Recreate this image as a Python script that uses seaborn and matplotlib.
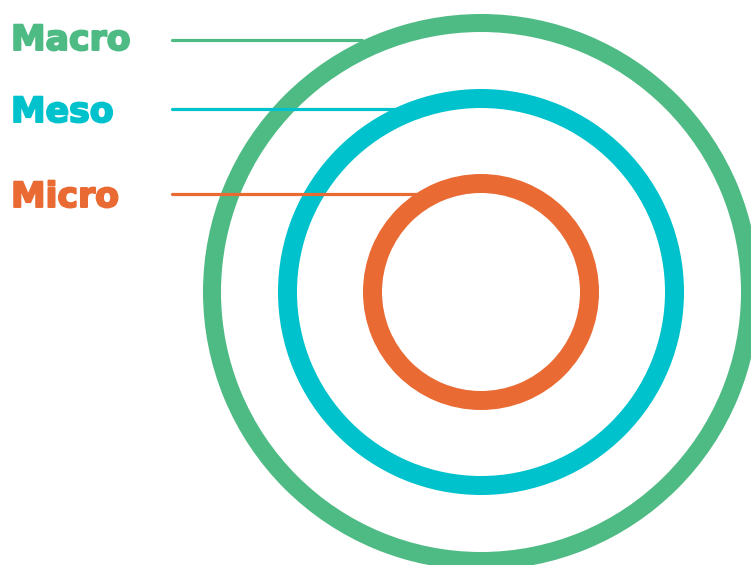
import numpy as np
import pandas as pd
import seaborn as sns
import matplotlib.pyplot as plt
import matplotlib.patheffects as pe
from matplotlib.patches import Annulus

sns.set_theme(style="white")
plt.rcParams['font.family'] = ['DejaVu Sans']

# levels, from outer to inner
levels = ['Macro', 'Meso', 'Micro']
colors = ['#4fbb84', '#00c2cc', '#e96a33']
outer_r = [278, 203, 118]
ring_w = [18, 19, 19]
center = (481, 292)

# labels and leader lines (pixel coordinates, y down)
label_x = 11
label_y = [50, 122, 207]
line_y = [39.5, 108.5, 193.5]
line_x0 = 172
line_x1 = [362, 398, 423]

fig = plt.figure(figsize=(7.51, 5.65), dpi=100)
ax = fig.add_axes([0, 0, 1, 1])

for r, w, c in zip(outer_r, ring_w, colors):
    ax.add_patch(Annulus(center, r, w, color=c, lw=0, zorder=1))

lines = pd.DataFrame({
    'x': [v for x1 in line_x1 for v in (line_x0, x1)],
    'y': [v for y in line_y for v in (y, y)],
    'level': [lv for lv in levels for _ in range(2)],
})
sns.lineplot(data=lines, x='x', y='y', hue='level', palette=dict(zip(levels, colors)),
             linewidth=2.3, legend=False, ax=ax, zorder=3, sort=False)
ax.set_xlim(0, 751)
ax.set_ylim(565, 0)
ax.set_aspect('equal')
ax.axis('off')

for name, y, c in zip(levels, label_y, colors):
    ax.text(label_x, y, name, color=c, fontsize=25, fontweight='bold', va='baseline', ha='left',
            path_effects=[pe.withStroke(linewidth=1.4, foreground=c)])

plt.savefig('out.png', dpi=100)
